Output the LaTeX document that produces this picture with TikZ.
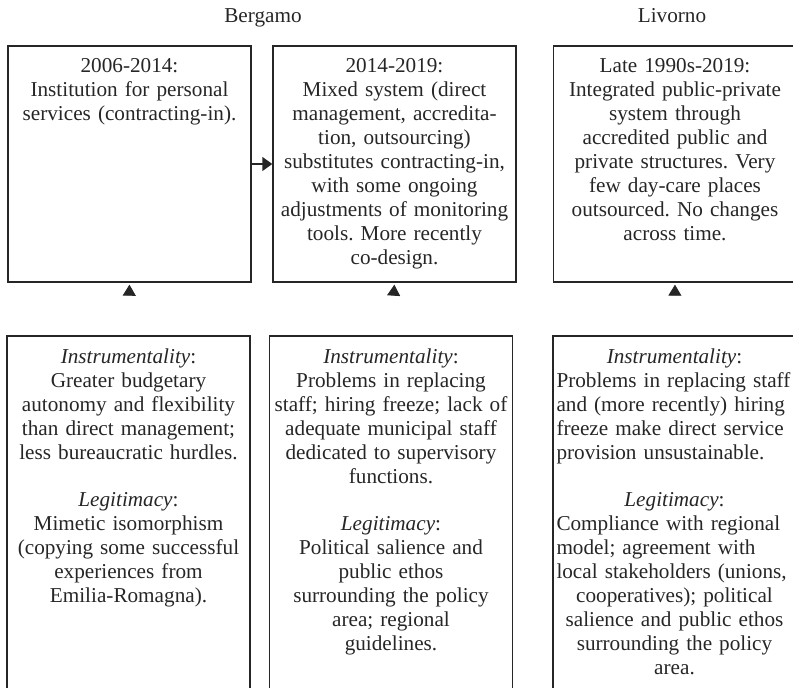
\documentclass[tikz,border=0pt]{standalone}
\usepackage{fontspec}
\setmainfont{Liberation Serif}
\usetikzlibrary{arrows.meta}
\newcommand\flushline[1]{\leavevmode\hbox to\hsize{#1\hfil}}
\frenchspacing

\begin{document}
\begin{tikzpicture}[x=0.5pt,y=-0.5pt,
  frame/.style={draw=black!85,line width=0.7pt,minimum width=121.5pt,inner sep=0pt},
  period/.style={frame,minimum height=118pt},
  motive/.style={frame,minimum height=190pt},
  txt/.style={anchor=north,align=center,inner sep=0pt,text width=118pt,yshift=-6.5pt},
  link/.style={draw=white,shorten <=1pt,shorten >=1pt,-{Triangle[width=6.5pt,length=5.5pt,color=black!85]}},
  >={Triangle[width=7pt,length=5pt]},
  every node/.style={font=\fontsize{10.6}{12}\selectfont,text=black!85}]
  \useasboundingbox (0,0) rectangle (793,688);
  \clip (0,0) rectangle (793,688);

  % city headings
  \node (bg) at (263,23) [anchor=base]{Bergamo};
  \node (lv) at (672,23) [anchor=base]{Livorno};

  % periods (top row)
  \node (p1) at (129.5,164) [period]{};
  \node (p2) at (394.5,164) [period]{};
  \node (p3) at (675,164) [period]{};
  \node (tp1) at (p1.north) [txt]{2006-2014:\\Institution for personal\\services (contracting-in).};
  \node (tp2) at (p2.north) [txt]{2014-2019:\\Mixed system (direct\\management, accredita-\\tion, outsourcing)\\substitutes contracting-in,\\with some ongoing\\adjustments of monitoring\\tools. More recently\\co-design.};
  \node (tp3) at (p3.north) [txt]{Late 1990s-2019:\\Integrated public-private\\system through\\accredited public and\\private structures. Very\\few day-care places\\outsourced. No changes\\across time.};

  % motives (bottom row)
  \node (m1) at (128.5,526) [motive]{};
  \node (m2) at (391,526) [motive]{};
  \node (m3) at (674.5,526) [motive]{};
  \node (tm1) at (m1.north) [txt]{\textit{Instrumentality}:\\Greater budgetary\\autonomy and flexibility\\than direct management;\\less bureaucratic hurdles.\\[11.5pt]
    \textit{Legitimacy}:\\Mimetic isomorphism\\(copying some successful\\experiences from\\Emilia-Romagna).};
  \node (tm2) at (m2.north) [txt]{\textit{Instrumentality}:\\Problems in replacing\\staff; hiring freeze; lack of\\adequate municipal staff\\dedicated to supervisory\\functions.\\[11.5pt]
    \textit{Legitimacy}:\\Political salience and\\public ethos\\surrounding the policy\\area; regional\\guidelines.};
  \node (tm3) at (m3.north) [txt]{\textit{Instrumentality}:\\\flushline{Problems in replacing staff}\\\flushline{and (more recently) hiring}\\\flushline{freeze make direct service}\\\flushline{provision unsustainable.}\\[11.5pt]
    \textit{Legitimacy}:\\\flushline{Compliance with regional}\\\flushline{model; agreement with}\\\flushline{local stakeholders (unions,}\\cooperatives); political\\salience and public ethos\\surrounding the policy\\area.};

  % connectors
  \draw[->,black!85,line width=0.7pt] (p1) -- (p2);
  \draw[link] (m1.north) -- (p1.south);
  \draw[link] (m2.north) -- (p2.south);
  \draw[link] (m3.north) -- (p3.south);
\end{tikzpicture}
\end{document}
